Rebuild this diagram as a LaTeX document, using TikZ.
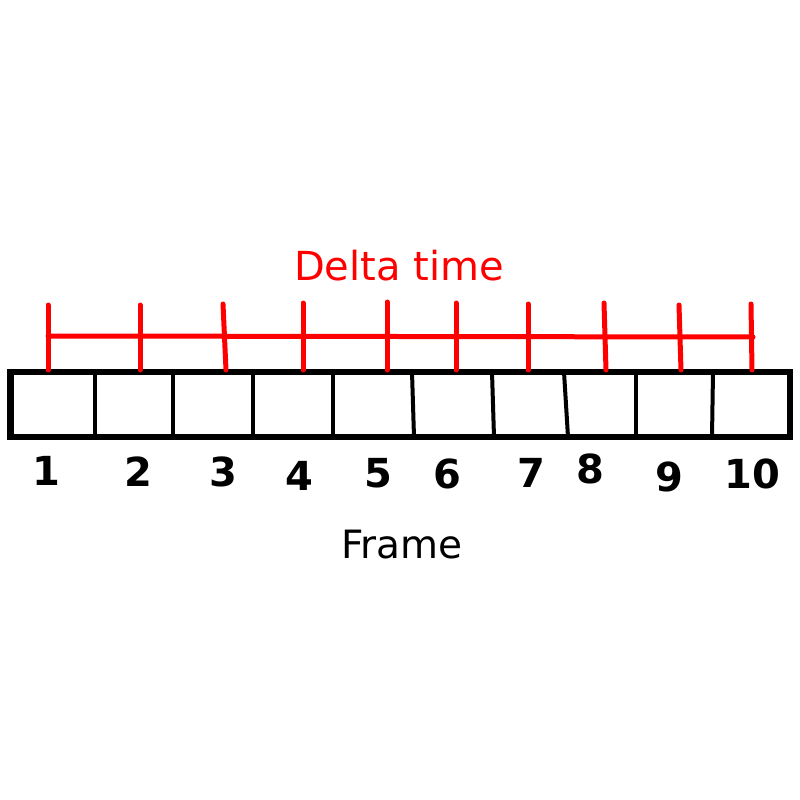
\documentclass[tikz,border=0pt]{standalone}
\usepackage{fontspec}
\setmainfont{DejaVu Sans}
\usetikzlibrary{calc}

\begin{document}
\begin{tikzpicture}[x=1pt, y=-1pt, every node/.style={inner sep=0pt},
    cellline/.style={line width=4pt},
    tickline/.style={red, line width=5pt, line cap=round},
    digit/.style={font=\fontsize{40}{44}\selectfont\bfseries}]
        \useasboundingbox (0,0) rectangle (800,800);

        % frame strip
        \draw[line width=6.5pt] (10.5,372) rectangle (790,437);
        \foreach \xt/\xb in {95/95, 173/173, 253/253, 333/333, 412/414, 492/494, 564/568, 636/636, 713/712}
                \draw[cellline] (\xt,372) -- (\xb,437);

        % delta time ruler
        \draw[tickline] (48,336) -- (753,337);
        \foreach \xt/\xb/\yt in {48/48/305, 140/140/305, 223/226/304, 303/303/303, 387/387/302, 456/456/303, 528/528/304, 604/606/303, 679/681/305, 751/752/304}
                \draw[tickline] (\xt,\yt) -- (\xb,370);

        \node[text=red, font=\fontsize{40}{48}\selectfont] (delta) at (399,266) {Delta time};

        % frame numbers
        \foreach \n/\x/\y in {1/46/471, 2/138/472, 3/223/472, 4/299/476, 5/378/473, 6/447/474, 7/531/473, 8/590/469, 9/669/477, 10/752/474}
                \node[digit] (n\n) at (\x,\y) {\n};

        \node[font=\fontsize{39}{46}\selectfont] (frame) at (402,545) {Frame};
      \end{tikzpicture}
\end{document}
